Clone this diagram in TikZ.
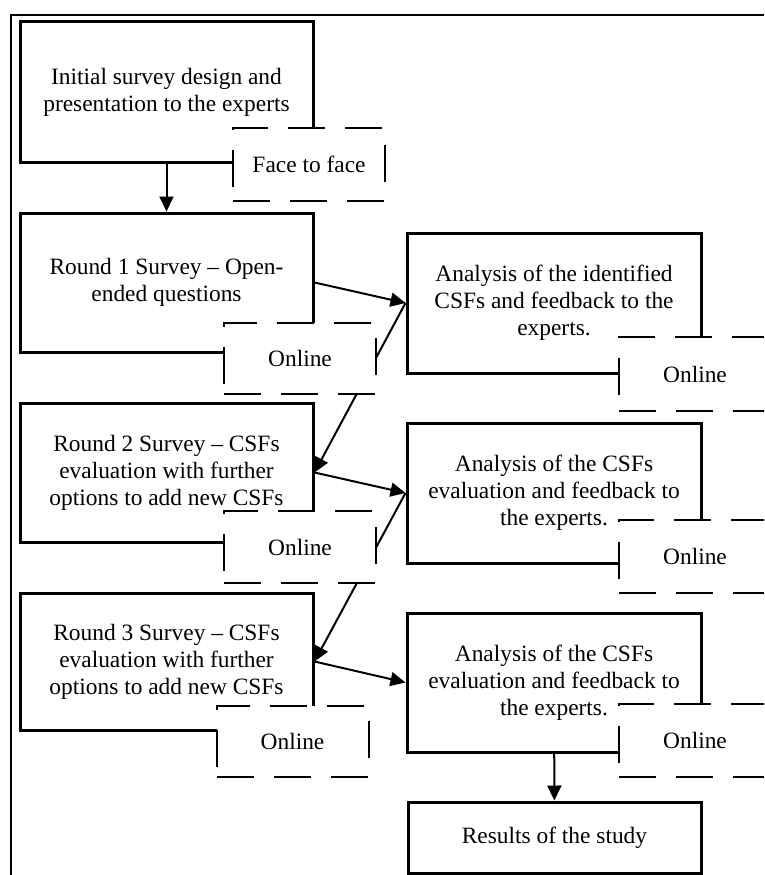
\documentclass[tikz,border=0pt]{standalone}
\usepackage{fontspec}
\setmainfont{Liberation Serif}
\usetikzlibrary{arrows.meta}

\tikzset{
  roundbox/.style={draw, line width=3pt, align=center, inner sep=0pt,
    minimum width=293pt, minimum height=140pt},
  modebox/.style={draw, fill=white, line width=2pt, dash pattern=on 37pt off 20pt,
    align=center, inner sep=0pt, minimum width=152pt, minimum height=73pt},
  flowarrow/.style={line width=2pt, -{Triangle[length=15pt,width=14pt]}}
}

\begin{document}
\begin{tikzpicture}[x=1pt, y=-1pt, font=\fontsize{23.4}{27}\selectfont]
\useasboundingbox (0,0) rectangle (764,875);
\clip (0,0) rectangle (764,875);
\draw[line width=2pt] (11,900) -- (11,15) -- (800,15);

% survey rounds
\node[roundbox] (design) at (166.5,92) {Initial survey design and\\presentation to the experts};
\node[roundbox, minimum height=139pt] (round1) at (166.5,282.5) {Round 1 Survey -- Open-\\ended questions};
\node[roundbox, minimum height=139pt] (round2) at (166.5,472.5) {Round 2 Survey -- CSFs\\evaluation with further\\options to add new CSFs};
\node[roundbox, minimum height=137pt] (round3) at (166.5,661.5) {Round 3 Survey -- CSFs\\evaluation with further\\options to add new CSFs};

% analysis steps
\node[roundbox, minimum width=294pt] (ana1) at (554,303) {Analysis of the identified\\CSFs and feedback to the\\experts.};
\node[roundbox, minimum width=294pt] (ana2) at (554,493) {Analysis of the CSFs\\evaluation and feedback to\\the experts.};
\node[roundbox, minimum width=294pt, minimum height=139pt] (ana3) at (554,682.5) {Analysis of the CSFs\\evaluation and feedback to\\the experts.};
\node[roundbox, minimum height=71pt] (result) at (554.5,837.5) {Results of the study};

% arrows
\draw[flowarrow] (design) -- (round1);
\draw[flowarrow] (round1.east) -- (ana1.west);
\draw[flowarrow] (ana1.west) -- (round2.east);
\draw[flowarrow] (round2.east) -- (ana2.west);
\draw[flowarrow] (ana2.west) -- (round3.east);
\draw[flowarrow] (round3.east) -- (ana3.west);
\draw[flowarrow] (ana3) -- (result);

% how each step was done
\node[modebox] (face) at (309,164.5) {Face to face};
\node[modebox, minimum height=71pt] (online1) at (300,358.5) {Online};
\node[modebox, minimum height=72pt] (online2) at (300,547) {Online};
\node[modebox, minimum height=71pt] (online3) at (292.5,741.5) {Online};
\node[modebox, minimum height=74pt] (onlineA1) at (695,374) {Online};
\node[modebox] (onlineA2) at (695,556.5) {Online};
\node[modebox] (onlineA3) at (695,740.5) {Online};
\end{tikzpicture}
\end{document}
